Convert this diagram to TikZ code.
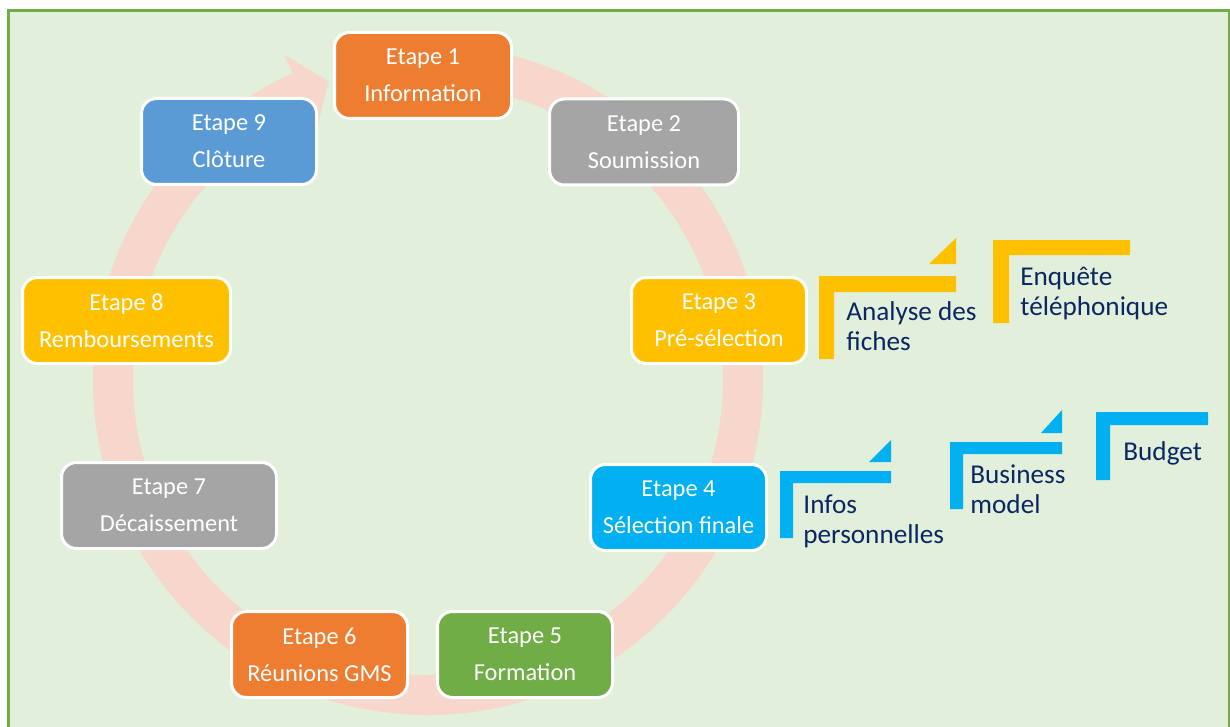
\documentclass[tikz,border=0pt]{standalone}
\usepackage{fontspec}
\setmainfont{Carlito}
\definecolor{bgfill}{HTML}{E2EFDA}
\definecolor{bgline}{HTML}{70AD47}
\definecolor{ringcol}{RGB}{247,214,203}
\definecolor{cOrange}{HTML}{ED7D31}
\definecolor{cGray}{HTML}{A5A5A5}
\definecolor{cYellow}{HTML}{FFC000}
\definecolor{cBlue}{HTML}{00B0F0}
\definecolor{cGreen}{HTML}{70AD47}
\definecolor{cSteel}{HTML}{5B9BD5}
\definecolor{navy}{HTML}{0B2763}
\begin{document}
\begin{tikzpicture}[x=0.5pt,y=-0.5pt,
  stepbox/.style={draw=white, line width=1.5pt, rounded corners=7.5pt, text=white,
    align=center, minimum height=43pt, inner sep=0pt,
    font=\fontsize{12.2}{18.5}\selectfont},
  sublabel/.style={text=navy, align=left, inner sep=0pt, anchor=base west,
    font=\fontsize{13.6}{14.6}\selectfont},
  yelbar/.style={fill=cYellow},
  bluebar/.style={fill=cBlue}
]
\useasboundingbox (0,0) rectangle (1230,727);
\clip (0,0) rectangle (1230,727);
% background
\draw[fill=bgfill, draw=bgline, line width=1.5pt] (8.5,11) rectangle (1229,745);

% circular arrow
\coordinate (rc) at (428,380);
\draw[ringcol, line width=20pt] (rc) ++(-85:315) arc[start angle=-85, end angle=246.5, radius=315];
\fill[ringcol, shift={(rc)}] (246.2:355) -- (251.6:315) -- (246.2:275) -- cycle;

% steps
\node[stepbox, fill=cOrange, minimum width=88.5pt] (e1) at (423,75.5) {Etape 1\\Information};
\node[stepbox, fill=cGray, minimum width=94.5pt] (e2) at (644,142) {Etape 2\\Soumission};
\node[stepbox, fill=cYellow, minimum width=87.5pt] (e3) at (719,320.5) {Etape 3\\Pré-sélection};
\node[stepbox, fill=cBlue, minimum width=88pt] (e4) at (678.5,507.5) {Etape 4\\Sélection finale};
\node[stepbox, fill=cGreen, minimum width=87.5pt] (e5) at (525,654.5) {Etape 5\\Formation};
\node[stepbox, fill=cOrange, minimum width=88pt] (e6) at (319.5,654.5) {Etape 6\\Réunions GMS};
\node[stepbox, fill=cGray, minimum width=107.5pt] (e7) at (169,505.5) {Etape 7\\Décaissement};
\node[stepbox, fill=cYellow, minimum width=104pt] (e8) at (126.5,320.5) {Etape 8\\Remboursements};
\node[stepbox, fill=cSteel, minimum width=87.5pt] (e9) at (229,141.5) {Etape 9\\Clôture};

% yellow brackets (step 3)
\fill[yelbar] (819,276) -- (956,276) -- (956,292) -- (834,292) -- (834,359) -- (819,359) -- cycle;
\fill[yelbar] (929,264) -- (956,238) -- (956,264) -- cycle;
\fill[yelbar] (993,240) -- (1130,240) -- (1130,255) -- (1009,255) -- (1009,323) -- (993,323) -- cycle;
\node[sublabel] (t31) at (846,350) {Analyse des\\fiches};
\node[sublabel] (t32) at (1020,315) {Enquête\\téléphonique};

% blue brackets (step 4)
\fill[bluebar] (780,471) -- (891,471) -- (891,483) -- (793,483) -- (793,538) -- (780,538) -- cycle;
\fill[bluebar] (869,462) -- (891,440) -- (891,462) -- cycle;
\fill[bluebar] (950,442) -- (1062,442) -- (1062,454) -- (963,454) -- (963,509) -- (950,509) -- cycle;
\fill[bluebar] (1041,433) -- (1062,410) -- (1062,433) -- cycle;
\fill[bluebar] (1096,412) -- (1208,412) -- (1208,425) -- (1110,425) -- (1110,480) -- (1096,480) -- cycle;
\node[sublabel] (t41) at (803,543) {Infos\\personnelles};
\node[sublabel] (t42) at (970,513) {Business\\model};
\node[sublabel] (t43) at (1123,460) {Budget};
\end{tikzpicture}
\end{document}
